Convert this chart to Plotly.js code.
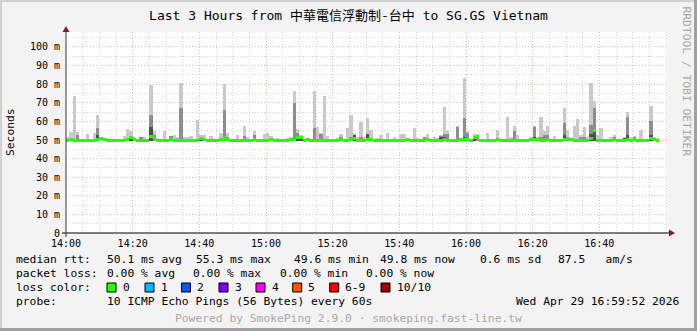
<!DOCTYPE html>
<html><head><meta charset="utf-8">
<script src="https://cdn.plot.ly/plotly-3.0.1.min.js"></script>
<style>html,body{margin:0;padding:0;background:#f3f3f3;overflow:hidden}#chart{width:697px;height:331px}</style>
</head><body><div id="chart"></div>
<script>
// ---- data (minutes since 14:00, values in ms) ----
const timeTicks = [0, 20, 40, 60, 80, 100, 120, 140, 160];
const timeLabels = ['14:00','14:20','14:40','15:00','15:20','15:40','16:00','16:20','16:40'];
const yTicks = [0, 10, 20, 30, 40, 50, 60, 70, 80, 90, 100];
const yTickLabels = ['0','10 m','20 m','30 m','40 m','50 m','60 m','70 m','80 m','90 m','100 m'];

const median = [
 50.0,50.1,50.0,49.9,49.8,49.9,50.0,49.9,50.0,50.3,
 50.6,50.2,49.9,49.7,49.8,49.9,49.9,50.0,50.1,51.5,
 50.4,49.9,50.0,49.8,50.0,52.0,50.6,49.9,49.8,49.7,
 49.8,50.5,50.0,49.9,49.8,49.9,50.0,49.9,49.8,50.0,
 51.0,50.1,49.8,49.9,49.8,50.0,50.2,50.9,50.2,49.8,
 49.7,49.9,50.0,49.9,49.8,50.0,50.1,49.9,49.8,49.9,
 50.0,50.1,50.0,49.9,49.8,49.8,50.0,50.3,50.4,51.5,
 51.5,50.0,50.1,49.7,49.6,49.8,49.9,49.7,49.8,49.7,
 50.0,49.9,50.1,49.9,50.0,50.2,51.0,50.0,49.7,49.9,
 50.1,50.2,50.0,49.8,49.8,50.0,49.9,49.8,49.9,50.0,
 49.9,50.0,50.1,49.9,50.0,49.8,49.9,50.0,50.1,49.9,
 49.8,49.9,50.0,50.2,50.0,49.9,49.8,50.0,50.1,50.5,
 50.2,49.6,51.5,52.0,49.8,49.9,49.9,49.8,49.9,50.2,
 49.9,49.8,49.9,50.0,49.9,50.0,49.9,50.0,49.9,50.1,
 50.4,50.3,50.0,50.0,50.3,49.9,50.0,49.9,49.8,50.1,
 50.6,50.1,50.0,49.8,49.9,50.0,49.9,51.0,55.3,50.0,
 49.9,49.8,49.9,50.0,50.3,49.9,50.0,49.9,50.1,49.9,
 50.2,49.9,49.9,49.8,49.9,51.0,50.3,49.8
];
// smoke: highest ping (light), upper-middle pings (mid), middle pings (dark)
const smokeLight = [
 51.8,54.3,73.6,54.3,null,null,53.0,null,53.6,63.4,
 51.0,null,51.0,null,null,50.8,null,52.0,55.9,54.8,
 null,null,51.8,51.8,null,79.5,54.8,51.0,null,54.8,
 null,52.0,52.7,51.8,80.4,51.8,51.8,52.1,null,60.7,
 52.7,52.7,null,52.0,null,null,53.9,80.0,53.9,null,
 null,52.7,null,57.5,51.8,null,55.0,null,null,53.2,
 53.6,52.0,null,51.0,null,null,51.0,51.5,76.3,55.7,
 52.7,null,null,null,76.3,56.8,53.9,73.6,52.0,null,
 null,51.0,53.0,null,56.4,63.4,53.6,51.8,59.8,51.8,
 61.6,55.4,null,51.0,52.7,null,53.9,null,51.5,null,
 53.2,53.2,null,null,56.6,51.0,null,51.8,53.2,50.7,
 51.5,51.0,52.7,67.9,54.8,null,null,57.5,null,83.4,
 54.8,null,53.2,53.2,null,null,53.9,null,null,55.5,
 null,null,62.5,51.5,57.5,52.7,null,null,null,51.8,
 57.5,51.8,62.5,54.8,57.5,null,52.0,null,null,67.3,
 55.4,null,57.5,61.3,52.7,56.8,51.8,80.7,70.9,52.7,
 56.6,null,null,51.8,52.7,null,null,51.8,65.2,51.8,
 52.0,null,55.4,null,null,68.4,51.5,51.0
];
const smokeMid = [
 null,null,null,52.7,null,null,null,null,null,56.6,
 null,null,null,null,null,null,null,null,null,null,
 null,null,51.5,null,null,63.4,52.7,null,null,null,
 null,52.0,null,null,67.0,null,null,null,null,null,
 null,null,null,null,null,null,null,66.0,51.8,null,
 null,null,null,52.0,null,null,52.7,null,null,null,
 null,null,null,null,null,null,null,null,70.0,53.9,
 null,null,null,null,56.6,null,53.2,null,null,null,
 null,null,51.8,null,null,51.8,null,null,51.5,null,
 null,null,null,null,null,null,null,null,null,null,
 null,null,null,null,null,null,null,51.8,null,null,
 null,null,52.3,53.0,53.0,null,null,56.8,null,62.0,
 53.6,null,null,52.5,null,null,null,null,null,null,
 null,null,null,null,54.8,null,null,null,null,null,
 56.8,null,51.8,52.7,52.7,null,null,null,null,59.0,
 51.8,null,null,null,51.8,51.8,null,58.0,67.0,null,
 null,null,null,null,51.8,null,null,null,62.1,null,
 51.5,null,null,null,null,60.2,null,null
];
const smokeDark = [
 null,null,null,null,null,null,null,null,null,52.7,
 null,null,null,null,null,null,null,null,null,52.3,
 null,null,null,null,null,57.1,null,null,null,null,
 null,null,null,null,null,null,null,null,null,null,
 51.8,null,null,null,null,null,null,null,null,null,
 null,null,null,null,null,null,null,null,null,null,
 null,null,null,null,null,null,null,51.0,null,51.8,
 51.8,null,null,null,null,null,null,null,null,null,
 null,null,null,null,null,null,52.7,null,null,null,
 53.0,null,null,null,null,null,null,null,null,null,
 null,null,null,null,null,null,null,null,null,null,
 null,null,51.5,51.8,null,null,null,null,null,51.8,
 null,null,51.8,null,null,null,null,null,null,null,
 null,null,null,null,null,null,null,null,null,null,
 51.8,null,null,null,null,null,null,null,null,52.7,
 null,null,null,null,null,null,null,53.0,55.4,null,
 null,null,null,null,null,null,null,51.0,52.7,null,
 null,null,null,null,null,52.7,null,null
];
const smokeBase = 49.4;

// ---- layout geometry (pixels) ----
const W = 697, H = 331, PL = 66, PR = 668, PT = 32, PB = 233;
const px = x => (x - PL) / (PR - PL);
const py = y => (PB - y) / (PB - PT);
const MONO = '"DejaVu Sans Mono", "Noto Sans CJK TC", monospace';
const YMAX = 108.06;
const medThick = 3 * YMAX / (PB - PT);

const xs = median.map((v, i) => i + 0.5);
function smokeTrace(arr, color) {
  return {type: 'bar', x: xs, y: arr.map(v => v == null ? null : v - smokeBase),
    base: arr.map(() => smokeBase), width: 1, marker: {color: color, line: {width: 0}},
    hoverinfo: 'skip', showlegend: false};
}
const traces = [
  smokeTrace(smokeLight, '#c9c9c9'),
  smokeTrace(smokeMid, '#8e8e8e'),
  smokeTrace(smokeDark, '#4e4e4e'),
  {type: 'bar', x: xs, y: median.map(() => medThick), base: median.map(v => v - medThick / 2),
   width: 1, marker: {color: '#26ff00', line: {width: 0}}, hoverinfo: 'skip', showlegend: false}
];

const ann = [];
function txt(text, x, y, opts) {
  ann.push(Object.assign({text: text, x: px(x), y: py(y), xref: 'paper', yref: 'paper',
    showarrow: false, xanchor: 'left', yanchor: 'middle', borderpad: 0,
    font: {family: MONO, size: 11.3, color: '#000'}}, opts || {}));
}
txt('median rtt:', 15, 259);
txt('50.1 ms avg', 106, 259);
txt('55.3 ms max', 195, 259);
txt('49.6 ms min', 292.5, 259);
txt('49.8 ms now', 378.5, 259);
txt('0.6 ms sd', 479, 259);
txt('87.5\u00a0\u00a0\u00a0am/s', 557, 259);
txt('packet loss:', 15, 273);
txt('0.00 % avg', 106, 273);
txt('0.00 % max', 191.5, 273);
txt('0.00 % min', 278.5, 273);
txt('0.00 % now', 364.5, 273);
txt('loss color:', 15, 287);
const lossLabels = ['0','1','2','3','4','5','6-9','10/10'];
const lossColors = ['#26ff00','#00b8ff','#0059ff','#7e00ff','#ff00ff','#ff5500','#ff0000','#a00000'];
const lossBoxX = [107, 145, 181.5, 219, 256, 292.7, 329.7, 381];
const lossTextX = [122, 159.6, 196, 233.5, 270.5, 307.4, 344.4, 395.6];
const shapes = [];
lossLabels.forEach((l, i) => {
  txt(l, lossTextX[i], 287);
  shapes.push({type: 'rect', xref: 'paper', yref: 'paper', x0: px(lossBoxX[i]), x1: px(lossBoxX[i] + 9),
    y0: py(283), y1: py(292), fillcolor: lossColors[i], line: {color: '#000', width: 1}});
});
txt('probe:', 15, 301);
txt('10 ICMP Echo Pings (56 Bytes) every 60s', 106, 301);
txt('Wed Apr 29 16:59:52 2026', 680, 301, {xanchor: 'right'});
txt('Powered by SmokePing 2.9.0 \u00b7 smokeping.fast-line.tw', 348, 318,
  {xanchor: 'center', font: {family: MONO, size: 11.3, color: '#a8a8a8'}});
txt('Seconds', 10.5, 132.5, {xanchor: 'center', textangle: -90});
txt('RRDTOOL / TOBI OETIKER', 686, 81.5,
  {xanchor: 'center', textangle: 90, font: {family: MONO, size: 11.3, color: '#a8a8a8'}});

// frame, axes, arrows
shapes.push(
  {type: 'rect', xref: 'paper', yref: 'paper', x0: px(0), x1: px(2), y0: py(0), y1: py(331), fillcolor: '#d0d0d0', line: {width: 0}, layer: 'below'},
  {type: 'rect', xref: 'paper', yref: 'paper', x0: px(0), x1: px(697), y0: py(0), y1: py(2), fillcolor: '#d0d0d0', line: {width: 0}, layer: 'below'},
  {type: 'rect', xref: 'paper', yref: 'paper', x0: px(694), x1: px(697), y0: py(0), y1: py(331), fillcolor: '#a0a0a0', line: {width: 0}, layer: 'below'},
  {type: 'rect', xref: 'paper', yref: 'paper', x0: px(0), x1: px(697), y0: py(328), y1: py(331), fillcolor: '#a0a0a0', line: {width: 0}, layer: 'below'},
  {type: 'line', xref: 'paper', yref: 'paper', x0: px(62), x1: px(670), y0: py(233), y1: py(233), line: {color: '#000', width: 1}},
  {type: 'line', xref: 'paper', yref: 'paper', x0: px(66), x1: px(66), y0: py(237), y1: py(30), line: {color: '#3c3434', width: 1}},
  {type: 'path', xref: 'paper', yref: 'paper', path: `M${px(669)},${py(229.5)} L${px(675)},${py(233)} L${px(669)},${py(236.5)} Z`, fillcolor: '#8b1a1a', line: {width: 0}},
  {type: 'path', xref: 'paper', yref: 'paper', path: `M${px(62.5)},${py(32)} L${px(66)},${py(26)} L${px(69.5)},${py(32)} Z`, fillcolor: '#8b1a1a', line: {width: 0}}
);

const layout = {
  width: W, height: H,
  margin: {l: PL, r: W - PR, t: PT, b: H - PB, pad: 0},
  paper_bgcolor: '#f3f3f3', plot_bgcolor: '#ffffff',
  barmode: 'overlay', bargap: 0, showlegend: false, hovermode: false,
  title: {text: 'Last 3 Hours from 中華電信浮動制-台中 to SG.GS Vietnam', x: 348.5 / W, xanchor: 'center',
    xref: 'container', yref: 'container', y: 1 - 15.5 / H, yanchor: 'middle',
    font: {family: MONO, size: 13, color: '#000'}},
  xaxis: {range: [0, 180.6], tickmode: 'array', tickvals: timeTicks, ticktext: timeLabels,
    showgrid: true, gridcolor: '#eab6b6', griddash: '1px,2px', gridwidth: 1,
    minor: {tickmode: 'linear', tick0: 0, dtick: 5, showgrid: true, gridcolor: '#d2d2d2', griddash: '1px,2px', gridwidth: 1},
    zeroline: false, showline: false, ticks: '', ticklabelstandoff: 3,
    tickfont: {family: MONO, size: 10, color: '#000'}, fixedrange: true},
  yaxis: {range: [0, YMAX], tickmode: 'array', tickvals: yTicks, ticktext: yTickLabels,
    showgrid: true, gridcolor: '#eab6b6', griddash: '1px,2px', gridwidth: 1,
    minor: {tickmode: 'linear', tick0: 0, dtick: 5, showgrid: true, gridcolor: '#d2d2d2', griddash: '1px,2px', gridwidth: 1},
    zeroline: false, showline: false, ticks: '', ticklabelstandoff: 5,
    tickfont: {family: MONO, size: 10, color: '#000'}, fixedrange: true},
  annotations: ann,
  shapes: shapes
};
Plotly.newPlot('chart', traces, layout, {staticPlot: true, displayModeBar: false});
</script></body></html>
